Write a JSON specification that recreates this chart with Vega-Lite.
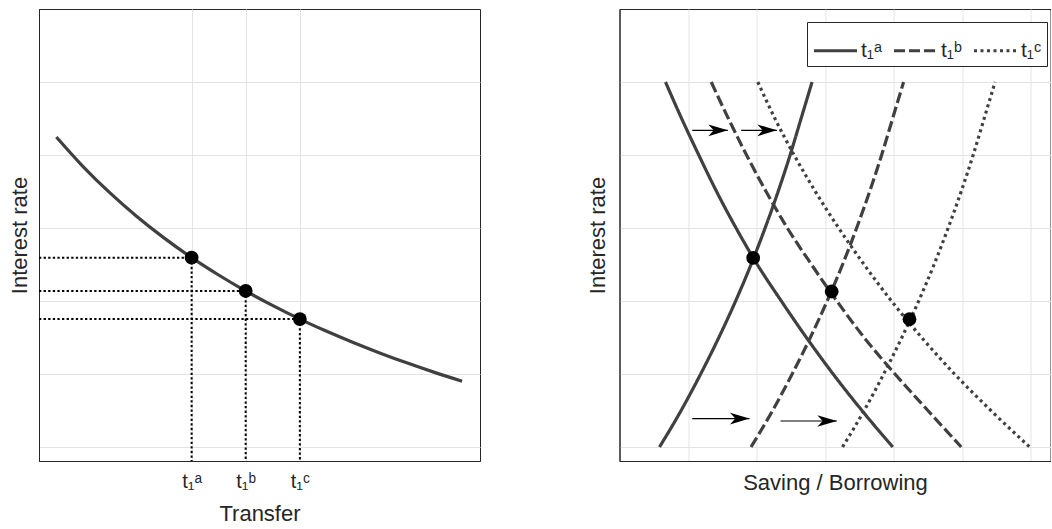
{
  "$schema": "https://vega.github.io/schema/vega-lite/v6.json",
  "background": "white",
  "padding": {"left": 7, "top": 8, "right": 0, "bottom": 0},
  "spacing": 104.5,
  "config": {
    "font": "Liberation Sans",
    "view": {"stroke": "#262626", "strokeWidth": 1},
    "axis": {
      "gridColor": "#e3e3e3", "gridWidth": 1,
      "domainColor": "#262626", "domainWidth": 1,
      "ticks": false,
      "labelColor": "#262626", "titleColor": "#262626",
      "titleFont": "Liberation Sans", "titleFontSize": 22, "titleFontWeight": "normal",
      "labelFont": "Liberation Sans, DejaVu Sans"
    }
  },
  "datasets": {
    "transfer": [
      {"x": 0.32, "y": 5.246}, {"x": 0.8, "y": 4.852}, {"x": 1.3, "y": 4.487}, {"x": 1.8, "y": 4.161},
      {"x": 2.3, "y": 3.868}, {"x": 2.817, "y": 3.594}, {"x": 3.3, "y": 3.363}, {"x": 3.815, "y": 3.137},
      {"x": 4.3, "y": 2.943}, {"x": 4.815, "y": 2.752}, {"x": 5.3, "y": 2.588}, {"x": 5.8, "y": 2.431},
      {"x": 6.3, "y": 2.285}, {"x": 6.8, "y": 2.149}, {"x": 7.3, "y": 2.022}, {"x": 7.81, "y": 1.901}
    ],
    "guides": [
      {"x": 0, "x2": 2.817, "y": 3.594, "y2": 3.594},
      {"x": 2.817, "x2": 2.817, "y": 3.594, "y2": 0.808},
      {"x": 0, "x2": 3.815, "y": 3.137, "y2": 3.137},
      {"x": 3.815, "x2": 3.815, "y": 3.137, "y2": 0.808},
      {"x": 0, "x2": 4.815, "y": 2.752, "y2": 2.752},
      {"x": 4.815, "x2": 4.815, "y": 2.752, "y2": 0.808}
    ],
    "eqL": [
      {"x": 2.817, "y": 3.594}, {"x": 3.815, "y": 3.137}, {"x": 4.815, "y": 2.752}
    ],
    "curves": [
      {"s": "t₁ᵃ", "c": "Sa", "i": 0, "x": 0.584, "y": 1}, {"s": "t₁ᵃ", "c": "Sa", "i": 1, "x": 0.899, "y": 1.5},
      {"s": "t₁ᵃ", "c": "Sa", "i": 2, "x": 1.184, "y": 2}, {"s": "t₁ᵃ", "c": "Sa", "i": 3, "x": 1.449, "y": 2.5},
      {"s": "t₁ᵃ", "c": "Sa", "i": 4, "x": 1.694, "y": 3}, {"s": "t₁ᵃ", "c": "Sa", "i": 5, "x": 1.919, "y": 3.5},
      {"s": "t₁ᵃ", "c": "Sa", "i": 6, "x": 2.124, "y": 4}, {"s": "t₁ᵃ", "c": "Sa", "i": 7, "x": 2.314, "y": 4.5},
      {"s": "t₁ᵃ", "c": "Sa", "i": 8, "x": 2.489, "y": 5}, {"s": "t₁ᵃ", "c": "Sa", "i": 9, "x": 2.649, "y": 5.5},
      {"s": "t₁ᵃ", "c": "Sa", "i": 10, "x": 2.809, "y": 6},

      {"s": "t₁ᵇ", "c": "Sb", "i": 0, "x": 1.919, "y": 1}, {"s": "t₁ᵇ", "c": "Sb", "i": 1, "x": 2.234, "y": 1.5},
      {"s": "t₁ᵇ", "c": "Sb", "i": 2, "x": 2.519, "y": 2}, {"s": "t₁ᵇ", "c": "Sb", "i": 3, "x": 2.784, "y": 2.5},
      {"s": "t₁ᵇ", "c": "Sb", "i": 4, "x": 3.029, "y": 3}, {"s": "t₁ᵇ", "c": "Sb", "i": 5, "x": 3.254, "y": 3.5},
      {"s": "t₁ᵇ", "c": "Sb", "i": 6, "x": 3.459, "y": 4}, {"s": "t₁ᵇ", "c": "Sb", "i": 7, "x": 3.649, "y": 4.5},
      {"s": "t₁ᵇ", "c": "Sb", "i": 8, "x": 3.824, "y": 5}, {"s": "t₁ᵇ", "c": "Sb", "i": 9, "x": 3.984, "y": 5.5},
      {"s": "t₁ᵇ", "c": "Sb", "i": 10, "x": 4.144, "y": 6},

      {"s": "t₁ᶜ", "c": "Sc", "i": 0, "x": 3.254, "y": 1}, {"s": "t₁ᶜ", "c": "Sc", "i": 1, "x": 3.569, "y": 1.5},
      {"s": "t₁ᶜ", "c": "Sc", "i": 2, "x": 3.854, "y": 2}, {"s": "t₁ᶜ", "c": "Sc", "i": 3, "x": 4.119, "y": 2.5},
      {"s": "t₁ᶜ", "c": "Sc", "i": 4, "x": 4.364, "y": 3}, {"s": "t₁ᶜ", "c": "Sc", "i": 5, "x": 4.589, "y": 3.5},
      {"s": "t₁ᶜ", "c": "Sc", "i": 6, "x": 4.794, "y": 4}, {"s": "t₁ᶜ", "c": "Sc", "i": 7, "x": 4.984, "y": 4.5},
      {"s": "t₁ᶜ", "c": "Sc", "i": 8, "x": 5.159, "y": 5}, {"s": "t₁ᶜ", "c": "Sc", "i": 9, "x": 5.319, "y": 5.5},
      {"s": "t₁ᶜ", "c": "Sc", "i": 10, "x": 5.479, "y": 6},

      {"s": "t₁ᵃ", "c": "Da", "i": 0, "x": 0.671, "y": 6}, {"s": "t₁ᵃ", "c": "Da", "i": 1, "x": 0.906, "y": 5.5},
      {"s": "t₁ᵃ", "c": "Da", "i": 2, "x": 1.156, "y": 5}, {"s": "t₁ᵃ", "c": "Da", "i": 3, "x": 1.416, "y": 4.5},
      {"s": "t₁ᵃ", "c": "Da", "i": 4, "x": 1.70, "y": 4}, {"s": "t₁ᵃ", "c": "Da", "i": 5, "x": 2.01, "y": 3.5},
      {"s": "t₁ᵃ", "c": "Da", "i": 6, "x": 2.36, "y": 3}, {"s": "t₁ᵃ", "c": "Da", "i": 7, "x": 2.726, "y": 2.5},
      {"s": "t₁ᵃ", "c": "Da", "i": 8, "x": 3.116, "y": 2}, {"s": "t₁ᵃ", "c": "Da", "i": 9, "x": 3.536, "y": 1.5},
      {"s": "t₁ᵃ", "c": "Da", "i": 10, "x": 3.986, "y": 1},

      {"s": "t₁ᵇ", "c": "Db", "i": 0, "x": 1.338, "y": 6}, {"s": "t₁ᵇ", "c": "Db", "i": 1, "x": 1.588, "y": 5.5},
      {"s": "t₁ᵇ", "c": "Db", "i": 2, "x": 1.853, "y": 5}, {"s": "t₁ᵇ", "c": "Db", "i": 3, "x": 2.138, "y": 4.5},
      {"s": "t₁ᵇ", "c": "Db", "i": 4, "x": 2.448, "y": 4}, {"s": "t₁ᵇ", "c": "Db", "i": 5, "x": 2.80, "y": 3.5},
      {"s": "t₁ᵇ", "c": "Db", "i": 6, "x": 3.17, "y": 3}, {"s": "t₁ᵇ", "c": "Db", "i": 7, "x": 3.568, "y": 2.5},
      {"s": "t₁ᵇ", "c": "Db", "i": 8, "x": 4.018, "y": 2}, {"s": "t₁ᵇ", "c": "Db", "i": 9, "x": 4.498, "y": 1.5},
      {"s": "t₁ᵇ", "c": "Db", "i": 10, "x": 4.985, "y": 1},

      {"s": "t₁ᶜ", "c": "Dc", "i": 0, "x": 2.017, "y": 6}, {"s": "t₁ᶜ", "c": "Dc", "i": 1, "x": 2.267, "y": 5.5},
      {"s": "t₁ᶜ", "c": "Dc", "i": 2, "x": 2.547, "y": 5}, {"s": "t₁ᶜ", "c": "Dc", "i": 3, "x": 2.857, "y": 4.5},
      {"s": "t₁ᶜ", "c": "Dc", "i": 4, "x": 3.197, "y": 4}, {"s": "t₁ᶜ", "c": "Dc", "i": 5, "x": 3.567, "y": 3.5},
      {"s": "t₁ᶜ", "c": "Dc", "i": 6, "x": 3.967, "y": 3}, {"s": "t₁ᶜ", "c": "Dc", "i": 7, "x": 4.407, "y": 2.5},
      {"s": "t₁ᶜ", "c": "Dc", "i": 8, "x": 4.887, "y": 2}, {"s": "t₁ᶜ", "c": "Dc", "i": 9, "x": 5.417, "y": 1.5},
      {"s": "t₁ᶜ", "c": "Dc", "i": 10, "x": 5.982, "y": 1}
    ],
    "arrows": [
      {"x": 1.061, "x2": 1.580, "y": 5.338},
      {"x": 1.775, "x2": 2.295, "y": 5.338},
      {"x": 1.061, "x2": 1.896, "y": 1.389},
      {"x": 2.349, "x2": 3.170, "y": 1.356}
    ],
    "eqR": [
      {"x": 1.95, "y": 3.59}, {"x": 3.095, "y": 3.13}, {"x": 4.23, "y": 2.75}
    ]
  },
  "hconcat": [
    {
      "width": 441,
      "height": 452,
      "layer": [
        {
          "data": {"name": "guides"},
          "mark": {"type": "rule", "color": "black", "strokeWidth": 2, "strokeDash": [2.3, 2.3]},
          "encoding": {
            "x": {"field": "x", "type": "quantitative", "scale": {"domain": [0, 8.14], "nice": false, "zero": false},
              "axis": {"title": "Transfer", "values": [2.817, 3.815, 4.815],
                "labelExpr": "datum.value < 3.3 ? 't₁ᵃ' : datum.value < 4.3 ? 't₁ᵇ' : 't₁ᶜ'",
                "labelFontSize": 20, "labelPadding": 10, "titlePadding": 12}},
            "x2": {"field": "x2"},
            "y": {"field": "y", "type": "quantitative", "scale": {"domain": [0.808, 7], "nice": false, "zero": false},
              "axis": {"title": "Interest rate", "values": [1, 2, 3, 4, 5, 6], "labels": false, "titlePadding": 8}},
            "y2": {"field": "y2"}
          }
        },
        {
          "data": {"name": "transfer"},
          "mark": {"type": "line", "color": "#404040", "strokeWidth": 3.2, "interpolate": "monotone"},
          "encoding": {
            "x": {"field": "x", "type": "quantitative"},
            "y": {"field": "y", "type": "quantitative"}
          }
        },
        {
          "data": {"name": "eqL"},
          "mark": {"type": "point", "filled": true, "color": "black", "opacity": 1, "size": 190, "shape": "circle"},
          "encoding": {
            "x": {"field": "x", "type": "quantitative"},
            "y": {"field": "y", "type": "quantitative"}
          }
        }
      ]
    },
    {
      "width": 431,
      "height": 452,
      "layer": [
        {
          "data": {"name": "curves"},
          "mark": {"type": "line", "color": "#404040", "strokeWidth": 3.2, "interpolate": "monotone"},
          "encoding": {
            "x": {"field": "x", "type": "quantitative", "scale": {"domain": [0, 6.287], "nice": false, "zero": false},
              "axis": {"title": "Saving / Borrowing", "values": [1, 2, 3, 4, 5, 6], "labels": false, "titlePadding": 11}},
            "y": {"field": "y", "type": "quantitative", "scale": {"domain": [0.808, 7], "nice": false, "zero": false},
              "axis": {"title": "Interest rate", "values": [1, 2, 3, 4, 5, 6], "labels": false, "titlePadding": 10.5}},
            "detail": {"field": "c"},
            "order": {"field": "i"},
            "strokeDash": {
              "field": "s", "type": "nominal",
              "scale": {"domain": ["t₁ᵃ", "t₁ᵇ", "t₁ᶜ"], "range": [[1, 0], [11, 4], [3, 3.5]]},
              "legend": {
                "title": null, "orient": "none", "legendX": 768, "legendY": 13,
                "direction": "horizontal", "symbolType": "stroke", "symbolSize": 1850,
                "symbolStrokeWidth": 3, "symbolStrokeColor": "#404040",
                "labelFontSize": 21, "labelFont": "Liberation Sans, DejaVu Sans", "labelColor": "#262626",
                "labelOffset": 2, "columnPadding": 5, "padding": 5,
                "strokeColor": "#262626", "fillColor": "white", "cornerRadius": 0
              }
            }
          }
        },
        {
          "data": {"name": "arrows"},
          "mark": {"type": "rule", "color": "black", "strokeWidth": 1.2},
          "encoding": {
            "x": {"field": "x", "type": "quantitative"},
            "x2": {"field": "x2"},
            "y": {"field": "y", "type": "quantitative"}
          }
        },
        {
          "data": {"name": "arrows"},
          "mark": {"type": "point", "filled": true, "color": "black", "opacity": 1, "size": 380,
            "shape": "M0,0 L-2,-0.6 L-1.45,0 L-2,0.6 Z"},
          "encoding": {
            "x": {"field": "x2", "type": "quantitative"},
            "y": {"field": "y", "type": "quantitative"}
          }
        },
        {
          "data": {"name": "eqR"},
          "mark": {"type": "point", "filled": true, "color": "black", "opacity": 1, "size": 190, "shape": "circle"},
          "encoding": {
            "x": {"field": "x", "type": "quantitative"},
            "y": {"field": "y", "type": "quantitative"}
          }
        }
      ]
    }
  ]
}
